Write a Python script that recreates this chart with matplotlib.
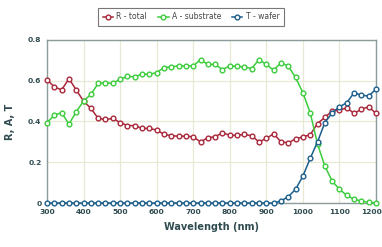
import matplotlib
matplotlib.use("Agg")
import matplotlib.pyplot as plt
import matplotlib.transforms as mtransforms
import numpy as np

# wavelengths every 20 nm
wavelength = list(range(300, 1201, 20))

r_total = [0.605, 0.57, 0.555, 0.61, 0.555, 0.50, 0.465, 0.415, 0.41, 0.415,
           0.395, 0.38, 0.38, 0.366, 0.366, 0.358, 0.337, 0.33, 0.328, 0.328,
           0.325, 0.30, 0.32, 0.325, 0.345, 0.332, 0.332, 0.337, 0.33, 0.30,
           0.317, 0.34, 0.30, 0.296, 0.314, 0.325, 0.335, 0.39, 0.42, 0.452,
           0.456, 0.467, 0.44, 0.46, 0.472, 0.44]

a_substrate = [0.394, 0.431, 0.443, 0.387, 0.448, 0.50, 0.533, 0.587, 0.59, 0.587,
               0.608, 0.621, 0.62, 0.632, 0.632, 0.64, 0.665, 0.668, 0.673, 0.673,
               0.673, 0.704, 0.68, 0.68, 0.655, 0.673, 0.67, 0.668, 0.66, 0.704,
               0.68, 0.652, 0.688, 0.672, 0.616, 0.541, 0.443, 0.29, 0.181, 0.108,
               0.067, 0.038, 0.018, 0.01, 0.003, 0.0]

t_wafer = [0.0] * 32 + [0.01, 0.031, 0.067, 0.132, 0.219, 0.30, 0.394, 0.443,
                        0.472, 0.492, 0.541, 0.529, 0.525, 0.559]

series = [("R - total", r_total, "#a8283a"),
          ("A - substrate", a_substrate, "#3ccc3c"),
          ("T - wafer", t_wafer, "#1c5e8c")]

text_color = "#2f4b4f"

fig = plt.figure(figsize=(3.82, 2.47), dpi=100)
ax = fig.add_axes([47 / 382, 44 / 247, 329 / 382, 163 / 247])

for label, vals, col in series:
    ax.plot(wavelength, vals, color=col, lw=1.1, marker="o", ms=3.4,
            mfc="white", mec=col, mew=1.0, label=label, clip_on=False, zorder=3)

ax.set_xlim(300, 1200)
ax.set_ylim(0, 0.8)
ax.set_xticks(np.arange(300, 1201, 100))
ax.set_yticks([0, 0.2, 0.4, 0.6, 0.8])
ax.set_yticklabels(["0", "0.2", "0.4", "0.6", "0.8"])
ax.grid(True, color="#e8e8d6", lw=0.9)
ax.set_axisbelow(True)

for s in ax.spines.values():
    s.set_color("#8c9c9c")
    s.set_linewidth(1.0)

ax.tick_params(length=0, labelsize=5.4, labelcolor=text_color, pad=4)
for t in ax.get_xticklabels() + ax.get_yticklabels():
    t.set_fontweight("bold")

# keep the last x label inside the figure
last = ax.get_xticklabels()[-1]
last.set_transform(last.get_transform() +
                   mtransforms.ScaledTranslation(-4 / 100, 0, fig.dpi_scale_trans))

ax.set_xlabel("Wavelength (nm)", fontsize=7, fontweight="bold", color=text_color, labelpad=5)
ax.set_ylabel("R, A, T", fontsize=7, fontweight="bold", color=text_color, labelpad=9)

leg = fig.legend(loc="upper center", bbox_to_anchor=(0.5, 0.985), ncol=3,
                 fontsize=5.5, frameon=True, fancybox=False, handlelength=1.4,
                 columnspacing=1.4, handletextpad=0.4, borderpad=0.65)
leg.get_frame().set_edgecolor("#555555")
leg.get_frame().set_linewidth(0.8)
for t in leg.get_texts():
    t.set_color("#444444")

fig.savefig("out.png", dpi=100)
